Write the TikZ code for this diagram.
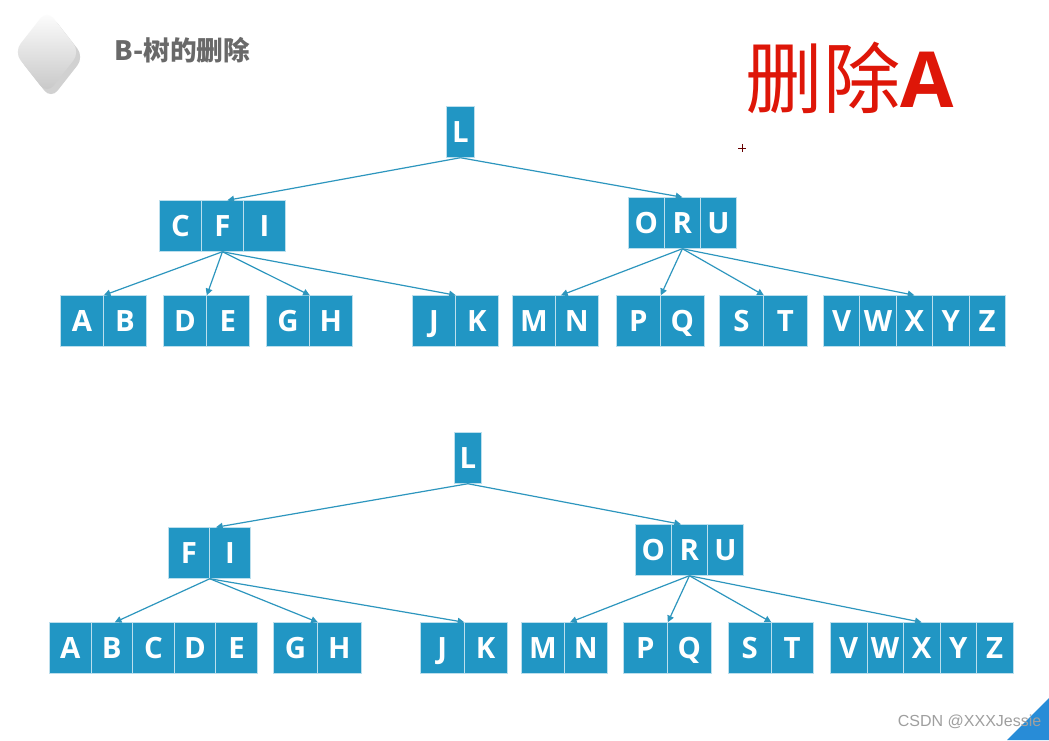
\documentclass[tikz,border=0pt]{standalone}
\usepackage{fontspec}
\setmainfont{Open Sans}
\newfontfamily\cjk{Noto Sans CJK SC}
\newfontfamily\wmark{Liberation Sans}
\usetikzlibrary{arrows.meta, calc}
\definecolor{keyblue}{RGB}{33, 150, 196}
\definecolor{linkblue}{RGB}{45, 150, 190}
\definecolor{titlegray}{RGB}{105, 105, 105}
\definecolor{delred}{RGB}{222, 22, 8}
\definecolor{cornerblue}{RGB}{40, 140, 215}

\begin{document}
\begin{tikzpicture}[x=0.75pt, y=-0.75pt,
  key/.style={fill=keyblue, draw=white!70!keyblue, line width=0.6pt, anchor=west, inner sep=0pt,
    minimum width={#1*0.75pt}, minimum height=38pt, text height=15.8pt, text depth=0pt,
    text=white, font=\bfseries\fontsize{22}{22}\selectfont},
  link/.style={draw=linkblue, line width=0.9pt, -{Triangle[length=5pt, width=5pt]}}
]
  \useasboundingbox[fill=white] (0,0) rectangle (1049,740);

  % logo and titles
  \fill[black!18, rounded corners=8pt] (51,15) -- (84,57) -- (51,99) -- (18,57) -- cycle;
  \shade[top color=white, bottom color=gray!45, rounded corners=8pt] (47,10) -- (80,52) -- (47,94) -- (14,52) -- cycle;
  \node[anchor=west, text=titlegray, font=\cjk\bfseries\fontsize{20}{20}\selectfont] (title) at (110,50) {B-树的删除};
  \node[text=delred, font=\fontsize{58}{58}\selectfont] (op) at (850,78) {{\cjk 删除}\textbf{A}};
  \draw[black!60!red, line width=0.6pt] (738,148) -- (746,148) (742,144) -- (742,152);

  % top tree
  \node[key=28] (tL) at (446,132) {L};
  \foreach \k [count=\i from 0] in {C,F,I} \node[key=42] (t\k) at (159+\i*42,226) {\k};
  \foreach \k [count=\i from 0] in {O,R,U} \node[key=36] (t\k) at (628+\i*36,223) {\k};
  \foreach \k [count=\i from 0] in {A,B} \node[key=43] (t\k) at (60+\i*43,321) {\k};
  \foreach \k [count=\i from 0] in {D,E} \node[key=43] (t\k) at (163+\i*43,321) {\k};
  \foreach \k [count=\i from 0] in {G,H} \node[key=43] (t\k) at (266+\i*43,321) {\k};
  \foreach \k [count=\i from 0] in {J,K} \node[key=43] (t\k) at (412+\i*43,321) {\k};
  \foreach \k [count=\i from 0] in {M,N} \node[key=43] (t\k) at (512+\i*43,321) {\k};
  \foreach \k [count=\i from 0] in {P,Q} \node[key=44] (t\k) at (616+\i*44,321) {\k};
  \foreach \k [count=\i from 0] in {S,T} \node[key=44] (t\k) at (719+\i*44,321) {\k};
  \foreach \k [count=\i from 0] in {V,W,X,Y,Z} \node[key=36.4] (t\k) at (823+\i*36.4,321) {\k};

  \draw[link] (tL.south) -- ($(tF.north)+(5,0)$);
  \draw[link] (tL.south) -- (tR.north);
  \draw[link] (tF.south) -- (tA.north east);
  \draw[link] (tF.south) -- (tD.north east);
  \draw[link] (tF.south) -- (tG.north east);
  \draw[link] (tF.south) -- (tJ.north east);
  \draw[link] (tR.south) -- ($(tN.north west)+(6,0)$);
  \draw[link] (tR.south) -- (tP.north east);
  \draw[link] (tR.south) -- (tS.north east);
  \draw[link] (tR.south) -- (tX.north);

  % bottom tree, after deleting A
  \node[key=27] (bL) at (454,458) {L};
  \foreach \k [count=\i from 0] in {F,I} \node[key=41] (b\k) at (168+\i*41,553) {\k};
  \foreach \k [count=\i from 0] in {O,R,U} \node[key=36] (b\k) at (635+\i*36,550) {\k};
  \foreach \k [count=\i from 0] in {A,B,C,D,E} \node[key=41.6] (b\k) at (49+\i*41.6,648) {\k};
  \foreach \k [count=\i from 0] in {G,H} \node[key=44] (b\k) at (273+\i*44,648) {\k};
  \foreach \k [count=\i from 0] in {J,K} \node[key=43.5] (b\k) at (420+\i*43.5,648) {\k};
  \foreach \k [count=\i from 0] in {M,N} \node[key=43] (b\k) at (521+\i*43,648) {\k};
  \foreach \k [count=\i from 0] in {P,Q} \node[key=44] (b\k) at (623+\i*44,648) {\k};
  \foreach \k [count=\i from 0] in {S,T} \node[key=42.5] (b\k) at (728+\i*42.5,648) {\k};
  \foreach \k [count=\i from 0] in {V,W,X,Y,Z} \node[key=36.5] (b\k) at (830+\i*36.5,648) {\k};

  \draw[link] (bL.south) -- ($(bI.north west)+(7,0)$);
  \draw[link] (bL.south) -- ($(bR.north west)+(10,0)$);
  \draw[link] (bF.south east) -- ($(bB.north)+(3,0)$);
  \draw[link] (bF.south east) -- (bG.north east);
  \draw[link] (bF.south east) -- (bJ.north east);
  \draw[link] (bR.south) -- ($(bN.north west)+(6,0)$);
  \draw[link] (bR.south) -- (bP.north east);
  \draw[link] (bR.south) -- (bS.north east);
  \draw[link] (bR.south) -- (bX.north);

  % corner mark and watermark
  \fill[cornerblue] (1007,740) -- (1049,698) -- (1049,740) -- cycle;
  \node[anchor=east, text=gray!75, font=\wmark\fontsize{12}{12}\selectfont] (wm) at (1046,722) {CSDN @XXXJessie};
\end{tikzpicture}
\end{document}
